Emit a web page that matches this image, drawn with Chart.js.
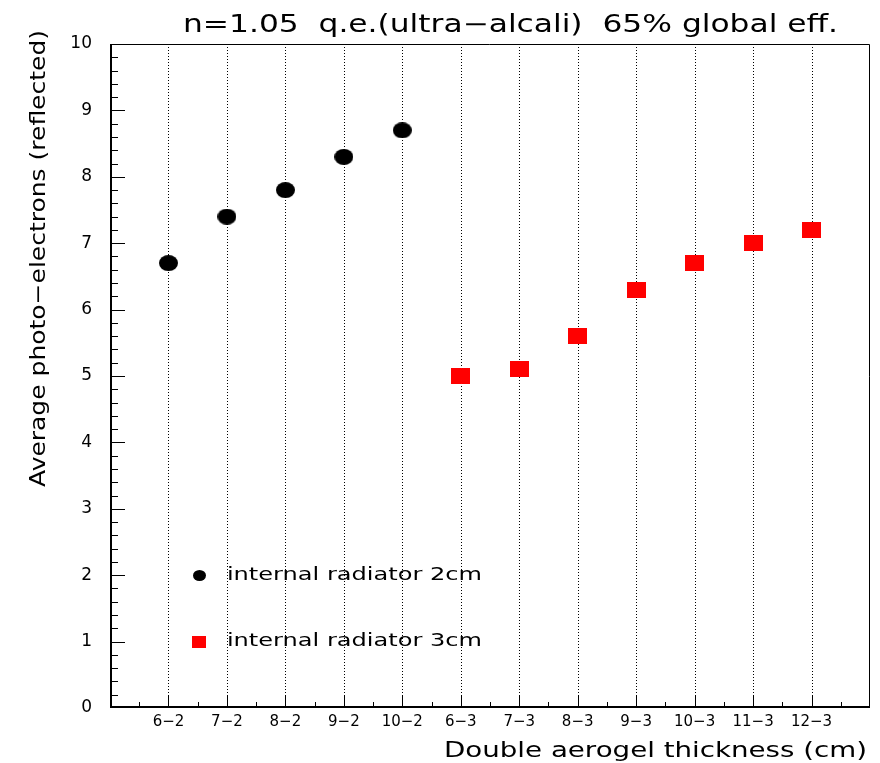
<!DOCTYPE html>
<html>
<head>
<meta charset="utf-8">
<script src="https://cdn.jsdelivr.net/npm/chart.js@4/dist/chart.umd.min.js"></script>
<style>
  html, body { margin: 0; padding: 0; background: #ffffff; }
  #wrap { width: 880px; height: 763px; }
</style>
</head>
<body>
<div id="wrap"><canvas id="c" width="880" height="763"></canvas></div>
<script>
// ---- data ----
const categories = ["6−2", "7−2", "8−2", "9−2", "10−2", "6−3", "7−3", "8−3", "9−3", "10−3", "11−3", "12−3"];
const radiator2cmCats = ["6−2", "7−2", "8−2", "9−2", "10−2"];
const radiator2cmValues = [6.7, 7.4, 7.8, 8.3, 8.7];
const radiator3cmCats = ["6−3", "7−3", "8−3", "9−3", "10−3", "11−3", "12−3"];
const radiator3cmValues = [5.0, 5.1, 5.6, 6.3, 6.7, 7.0, 7.2];
const yTicks = [0, 1, 2, 3, 4, 5, 6, 7, 8, 9, 10];

const titleText = "n=1.05  q.e.(ultra−alcali)  65% global eff.";
const yTitle = "Average photo−electrons (reflected)";
const xTitle = "Double aerogel thickness (cm)";
const legendLabels = ["internal radiator 2cm", "internal radiator 3cm"];

const FONT = "'DejaVu Sans', sans-serif";

function makeMarker(kind, w, h, color) {
  const cv = document.createElement('canvas');
  cv.width = w; cv.height = h;
  const g = cv.getContext('2d');
  g.fillStyle = color;
  if (kind === 'ellipse') {
    g.beginPath();
    g.ellipse(w / 2, h / 2, w / 2, h / 2, 0, 0, Math.PI * 2);
    g.fill();
  } else {
    g.fillRect(0, 0, w, h);
  }
  return cv;
}
const blackDot = makeMarker('ellipse', 19, 16, '#000000');
const redSquare = makeMarker('rect', 19, 16, '#ff0000');
const blackDotSmall = makeMarker('ellipse', 13, 11, '#000000');
const redSquareSmall = makeMarker('rect', 14, 12, '#ff0000');

const toPoints = (cats, vals) => cats.map((c, i) => ({ x: categories.indexOf(c) + 1, y: vals[i] }));

// draw text stretched horizontally to a given width
function wideText(ctx, text, x, y, align, font, width) {
  ctx.save();
  ctx.font = font;
  const w = ctx.measureText(text).width;
  const sx = width / w;
  ctx.translate(x, y);
  ctx.scale(sx, 1);
  ctx.textAlign = align;
  ctx.fillText(text, 0, 0);
  ctx.restore();
}

const decor = {
  id: 'decor',
  beforeDatasetsDraw(chart) {
    const { ctx, chartArea: a, scales: { x, y } } = chart;
    ctx.save();
    // dotted verticals at categories
    ctx.strokeStyle = '#000000';
    ctx.lineWidth = 1;
    ctx.setLineDash([1, 2]);
    categories.forEach((c, i) => {
      const px = Math.round(x.getPixelForValue(i + 1)) + 0.5;
      ctx.beginPath();
      ctx.moveTo(px, a.top);
      ctx.lineTo(px, a.bottom);
      ctx.stroke();
    });
    ctx.setLineDash([]);
    // x ticks (inside)
    for (let k = 1; k <= 2 * (categories.length + 1) - 1; k++) {
      const v = k / 2;
      const px = Math.round(x.getPixelForValue(v)) + 0.5;
      const len = (k % 2 === 0) ? 12 : 6;
      ctx.beginPath();
      ctx.moveTo(px, a.bottom);
      ctx.lineTo(px, a.bottom - len);
      ctx.stroke();
    }
    // y ticks (inside)
    const yMax = yTicks[yTicks.length - 1];
    for (let k = 1; k < yMax * 5; k++) {
      const v = k / 5;
      const py = Math.round(y.getPixelForValue(v)) + 0.5;
      const len = (k % 5 === 0) ? 15 : 8;
      ctx.beginPath();
      ctx.moveTo(a.left, py);
      ctx.lineTo(a.left + len, py);
      ctx.stroke();
    }
    // frame
    ctx.lineWidth = 1;
    ctx.beginPath();
    ctx.moveTo(a.left, a.top + 0.5);
    ctx.lineTo(a.right - 0.5, a.top + 0.5);
    ctx.lineTo(a.right - 0.5, a.bottom);
    ctx.stroke();
    ctx.lineWidth = 2;
    ctx.beginPath();
    ctx.moveTo(a.left + 1, a.top);
    ctx.lineTo(a.left + 1, a.bottom - 1);
    ctx.lineTo(a.right, a.bottom - 1);
    ctx.stroke();

    // legend inside plot
    const markers = [blackDotSmall, redSquareSmall];
    ctx.fillStyle = '#000000';
    ctx.textBaseline = 'middle';
    legendLabels.forEach((lab, i) => {
      const py = y.getPixelForValue(2 - i);
      const mx = x.getPixelForValue(1.53);
      const m = markers[i];
      ctx.drawImage(m, Math.round(mx - m.width / 2), Math.round(py - m.height / 2));
      wideText(ctx, lab, x.getPixelForValue(2.0), py, 'left', '18px ' + FONT, 255);
    });

    // title
    ctx.textBaseline = 'alphabetic';
    wideText(ctx, titleText, 838, 32, 'right', '24px ' + FONT, 655);

    // x title
    wideText(ctx, xTitle, a.right - 3, 757, 'right', '21px ' + FONT, 423);

    // y title
    ctx.save();
    ctx.translate(45, a.top - 14);
    ctx.rotate(-Math.PI / 2);
    wideText(ctx, yTitle, 0, 0, 'right', '21px ' + FONT, 457);
    ctx.restore();

    ctx.restore();
  }
};

new Chart(document.getElementById('c'), {
  type: 'scatter',
  data: {
    datasets: [
      {
        label: legendLabels[0],
        data: toPoints(radiator2cmCats, radiator2cmValues),
        pointStyle: blackDot,
        pointRadius: 9,
        showLine: false
      },
      {
        label: legendLabels[1],
        data: toPoints(radiator3cmCats, radiator3cmValues),
        pointStyle: redSquare,
        pointRadius: 9,
        showLine: false
      }
    ]
  },
  options: {
    responsive: false,
    animation: false,
    devicePixelRatio: 1,
    layout: { padding: { left: 0, top: 44, right: 7, bottom: 0 } },
    plugins: {
      legend: { display: false },
      title: { display: false },
      tooltip: { enabled: false }
    },
    scales: {
      x: {
        type: 'linear',
        min: 0,
        max: categories.length + 1,
        afterFit(s) { s.height = 55; },
        afterBuildTicks(s) { s.ticks = categories.map((c, i) => ({ value: i + 1 })); },
        grid: { display: false, drawTicks: false },
        border: { display: false },
        ticks: {
          padding: 5,
          maxRotation: 0,
          autoSkip: false,
          color: '#000000',
          font: { family: FONT, size: 15 },
          callback: (v) => categories[v - 1] || ''
        }
      },
      y: {
        type: 'linear',
        min: yTicks[0],
        max: yTicks[yTicks.length - 1],
        afterFit(s) { s.width = 110; },
        afterBuildTicks(s) { s.ticks = yTicks.map(v => ({ value: v })); },
        grid: { display: false, drawTicks: false },
        border: { display: false },
        ticks: {
          padding: 18,
          color: '#000000',
          font: { family: FONT, size: 17 },
          callback: (v) => String(v)
        }
      }
    }
  },
  plugins: [decor]
});
</script>
</body>
</html>
